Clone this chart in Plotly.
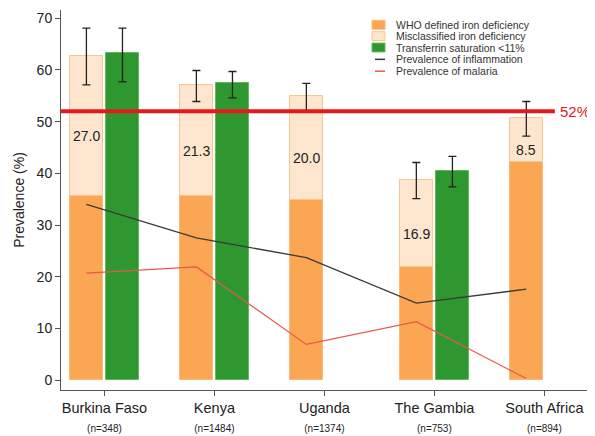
import plotly.graph_objects as go

countries = ["Burkina Faso", "Kenya", "Uganda", "The Gambia", "South Africa"]
sample_n = ["n=348", "n=1484", "n=1374", "n=753", "n=894"]
who_iron_def = [35.7, 35.7, 34.9, 21.8, 42.2]
misclassified = [27.0, 21.3, 20.0, 16.9, 8.5]
misclassified_labels = ["27.0", "21.3", "20.0", "16.9", "8.5"]
err_upper_total = [68.1, 59.9, 57.4, 42.1, 53.9]
err_lower_total = [57.1, 53.9, 52.0, 35.1, 47.2]
tsat_lt11 = [63.2, 57.4, None, 40.5, None]
tsat_err_upper = [68.1, 59.7, None, 43.3, None]
tsat_err_lower = [57.7, 54.6, None, 37.4, None]
inflammation = [34.0, 27.5, 23.7, 14.9, 17.6]
malaria = [20.7, 21.9, 6.9, 11.3, 0.3]
threshold = 52
threshold_label = "52%"
legend_labels = ["WHO defined iron deficiency", "Misclassified iron deficiency",
                 "Transferrin saturation <11%", "Prevalence of inflammation",
                 "Prevalence of malaria"]
y_ticks = [0, 10, 20, 30, 40, 50, 60, 70]

ORANGE = "#faa653"
PEACH = "#fde6cd"
PEACH_LINE = "#f7c595"
GREEN = "#2f972f"
GREEN_LINE = "#5fbb5f"
RED = "#e3191c"
FONT = "Liberation Sans, Arial"

# page body has an 8px margin: shift everything to compensate
OFS = 8
W, H = 595 - OFS, 436 - OFS
PL, PR, PT, PB = 61 - OFS, 590 - OFS, 10 - OFS, 395 - OFS
PW, PH = PR - PL, PB - PT

BW = 0.30
OFF_A = -0.314
OFF_B = 0.014
cats = list(range(len(countries)))
center_a = [c + OFF_A + BW / 2 for c in cats]
center_b = [c + OFF_B + BW / 2 for c in cats]
totals = [a + b for a, b in zip(who_iron_def, misclassified)]

fig = go.Figure()
fig.add_trace(go.Bar(x=cats, y=who_iron_def, width=BW, offset=OFF_A,
                     marker=dict(color=ORANGE, line=dict(color="#fbb878", width=1)),
                     showlegend=False))
fig.add_trace(go.Bar(x=cats, y=misclassified, base=who_iron_def, width=BW, offset=OFF_A,
                     marker=dict(color=PEACH, line=dict(color=PEACH_LINE, width=1)),
                     showlegend=False))
fig.add_trace(go.Bar(x=cats, y=tsat_lt11, width=BW, offset=OFF_B,
                     marker=dict(color=GREEN, line=dict(color=GREEN_LINE, width=1)),
                     showlegend=False))

# error bars
fig.add_trace(go.Scatter(
    x=center_a, y=totals, mode="markers", marker=dict(opacity=0, size=1),
    error_y=dict(type="data", symmetric=False,
                 array=[u - t for u, t in zip(err_upper_total, totals)],
                 arrayminus=[t - l for l, t in zip(err_lower_total, totals)],
                 color="#222", thickness=1.3, width=4),
    showlegend=False, hoverinfo="skip"))
gx, gy, gu, gl = [], [], [], []
for c, v, u, l in zip(center_b, tsat_lt11, tsat_err_upper, tsat_err_lower):
    if v is not None:
        gx.append(c); gy.append(v); gu.append(u - v); gl.append(v - l)
fig.add_trace(go.Scatter(
    x=gx, y=gy, mode="markers", marker=dict(opacity=0, size=1),
    error_y=dict(type="data", symmetric=False, array=gu, arrayminus=gl,
                 color="#222", thickness=1.3, width=4),
    showlegend=False, hoverinfo="skip"))

fig.add_trace(go.Scatter(x=center_a, y=inflammation, mode="lines",
                         line=dict(color="#3a3a3a", width=1.3), showlegend=False))
fig.add_trace(go.Scatter(x=center_a, y=malaria, mode="lines",
                         line=dict(color="#e8574f", width=1.2), showlegend=False))

# labels of misclassified segment
for c, b, m, t in zip(center_a, who_iron_def, misclassified, misclassified_labels):
    fig.add_annotation(x=c, y=b + m / 2, text=t, showarrow=False, yshift=-10,
                       font=dict(size=14, color="#222", family=FONT))

# threshold line
fig.add_shape(type="line", xref="x", yref="y", x0=-0.395, x1=4.095,
              y0=threshold, y1=threshold, line=dict(color=RED, width=4), layer="above")
fig.add_annotation(x=4.12, y=threshold, text=threshold_label, showarrow=False,
                   xanchor="left", font=dict(size=15, color=RED, family=FONT))

# manual legend (reference pixel coords -> paper)
def px(xp):
    return (xp - OFS - PL) / PW
def py(yp):
    return (PB - (yp - OFS)) / PH
rows = [25, 36.5, 48, 60, 72]
kinds = [("box", ORANGE, "#fbb878"), ("box", PEACH, PEACH_LINE), ("box", GREEN, GREEN_LINE),
         ("line", "#3a3a3a", None), ("line", "#e8574f", None)]
for r, (kind, col, lc), lab in zip(rows, kinds, legend_labels):
    if kind == "box":
        fig.add_shape(type="rect", xref="paper", yref="paper",
                      x0=px(372), x1=px(385), y0=py(r + 4.5), y1=py(r - 4.5),
                      fillcolor=col, line=dict(color=lc, width=1))
    else:
        fig.add_shape(type="line", xref="paper", yref="paper",
                      x0=px(375), x1=px(385), y0=py(r), y1=py(r),
                      line=dict(color=col, width=1.5))
    fig.add_annotation(xref="paper", yref="paper", x=px(394), y=py(r), text=lab,
                       showarrow=False, xanchor="left", yanchor="middle",
                       font=dict(size=10.5, color="#333", family=FONT))

ticktext = [f"{c}<br><span style='font-size:10px'>({n})</span>" for c, n in zip(countries, sample_n)]

fig.update_layout(
    width=W, height=H,
    margin=dict(l=PL, r=W - PR, t=PT, b=H - PB),
    plot_bgcolor="white", paper_bgcolor="white",
    font=dict(family=FONT, color="#222"),
    bargap=0,
    xaxis=dict(range=[-0.395, 4.415], tickmode="array", tickvals=cats, ticktext=ticktext,
               showline=True, linecolor="#555", linewidth=1, ticks="outside", ticklen=5,
               tickcolor="#555", showgrid=False, zeroline=False,
               tickfont=dict(size=14.5, color="#222")),
    yaxis=dict(range=[-1.91, 71.6], tickmode="array", tickvals=y_ticks,
               showline=True, linecolor="#555", linewidth=1, ticks="outside", ticklen=5,
               tickcolor="#555", showgrid=False, zeroline=False,
               tickfont=dict(size=14, color="#222"),
               title=dict(text="Prevalence (%)", font=dict(size=14, color="#222"), standoff=8)),
)

fig.write_html("out.html")
